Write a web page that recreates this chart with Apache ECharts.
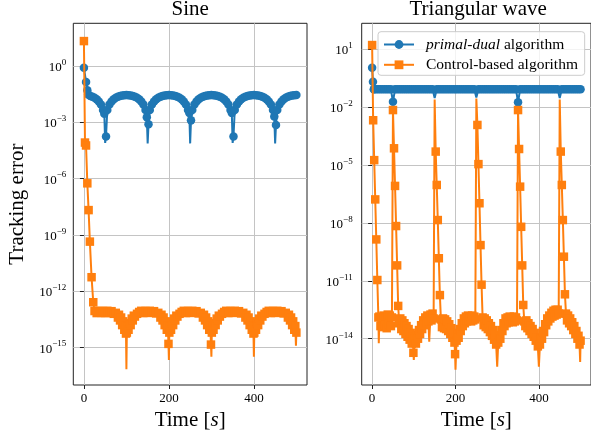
<!DOCTYPE html>
<html><head><meta charset="utf-8">
<script src="https://cdn.jsdelivr.net/npm/echarts@6/dist/echarts.min.js"></script>
<style>html,body{margin:0;padding:0;background:#fff}#c{width:591px;height:438px}</style>
</head><body><div id="c"></div>
<script>
// ---------------- data (time [s], tracking error) ----------------
const panelTitles = ['Sine', 'Triangular wave'];
const seriesNames = ['primal-dual algorithm', 'Control-based algorithm'];
const xTicks = [0, 200, 400];
const sineYTicks = [1, 1e-3, 1e-6, 1e-9, 1e-12, 1e-15];
const triYTicks = [10, 1e-2, 1e-5, 1e-8, 1e-11, 1e-14];

// Sine, primal-dual
const sineDualPts = [
 [0,0.79],[5,0.141],[8,0.05],[10,0.030],[15,0.0251],[20,0.0229],[25,0.0200],[30,0.0166],[35,0.0126],[40,0.0087],[45,0.0045],[48,0.0028],[52,0.000174],[55,0.0045],[60,0.0087],[65,0.0126],[70,0.0166],[75,0.0200],[80,0.0229],[85,0.0251],[90,0.0269],[95,0.0275],
 [100,0.0282],[105,0.0275],[110,0.0269],[115,0.0251],[120,0.0229],[125,0.0200],[130,0.0166],[135,0.0126],[140,0.0087],[145,0.0045],[148,0.00186],[152,0.00079],[155,0.0045],[160,0.0087],[165,0.0126],[170,0.0166],[175,0.0200],[180,0.0229],[185,0.0251],[190,0.0269],[195,0.0275],
 [200,0.0282],[205,0.0275],[210,0.0269],[215,0.0251],[220,0.0229],[225,0.0200],[230,0.0166],[235,0.0126],[240,0.0087],[245,0.0045],[248,0.00316],[252,0.00126],[255,0.0045],[260,0.0087],[265,0.0126],[270,0.0166],[275,0.0200],[280,0.0229],[285,0.0251],[290,0.0269],[295,0.0275],
 [300,0.0282],[305,0.0275],[310,0.0269],[315,0.0251],[320,0.0229],[325,0.0200],[330,0.0166],[335,0.0126],[340,0.0087],[345,0.0045],[348,0.00316],[352,0.000174],[355,0.0045],[360,0.0087],[365,0.0126],[370,0.0166],[375,0.0200],[380,0.0229],[385,0.0251],[390,0.0269],[395,0.0275],
 [400,0.0282],[405,0.0275],[410,0.0269],[415,0.0251],[420,0.0229],[425,0.0200],[430,0.0166],[435,0.0126],[440,0.0087],[445,0.0045],[448,0.0020],[452,0.00072],[455,0.0045],[460,0.0087],[465,0.0126],[470,0.0166],[475,0.0200],[480,0.0229],[485,0.0251],[490,0.0269],[495,0.0275],
 [500,0.0282]
];
const sineDualSpikes = [[50,8e-5],[150,7.5e-5],[250,7.5e-5],[350,8e-5],[450,7.5e-5]];

// Sine, control-based
const sineCtrlPts = [
 [0,21],[2.5,8.3e-5],[5,5.8e-5],[8,5.6e-7],[11,2.1e-8],[14,4.4e-10],[18,5.6e-12],[22,2.6e-13],
 [25,8.9e-14],[30,6.9e-14],[35,9.1e-14],[40,7.1e-14],[45,8.9e-14],[50,6.8e-14],[55,9.1e-14],[60,7.2e-14],[65,8.7e-14],[70,6.3e-14],[75,7.1e-14],
 [80,4.0e-14],[82.5,5.6e-14],[85,2.8e-14],[87.5,4.0e-14],[90,1.58e-14],[92.5,2.5e-14],[95,8.9e-15],[97.5,1.4e-14],[99,5.6e-15],[101,6.3e-15],[102.5,1.26e-14],[105,8.9e-15],[107.5,2.0e-14],[110,1.58e-14],[112.5,3.5e-14],[115,2.8e-14],[117.5,5.0e-14],[120,4.5e-14],[125,6.3e-14],[130,7.9e-14],
 [135,9.1e-14],[140,6.9e-14],[145,8.9e-14],[150,7.1e-14],[155,9.1e-14],[160,7.1e-14],[165,8.7e-14],[170,6.6e-14],[175,7.1e-14],
 [180,4.0e-14],[182.5,5.6e-14],[185,2.8e-14],[187.5,4.0e-14],[190,1.58e-14],[192.5,2.5e-14],[195,8.9e-15],[197.5,1.4e-14],[199,1.58e-15],[201,6.3e-15],[202.5,1.26e-14],[205,8.9e-15],[207.5,2.0e-14],[210,1.58e-14],[212.5,3.5e-14],[215,2.8e-14],[217.5,5.0e-14],[220,4.5e-14],[225,6.3e-14],[230,7.9e-14],
 [235,9.1e-14],[240,6.9e-14],[245,8.9e-14],[250,7.1e-14],[255,9.1e-14],[260,7.1e-14],[265,8.7e-14],[270,6.6e-14],[275,7.1e-14],
 [280,4.0e-14],[282.5,5.6e-14],[285,2.8e-14],[287.5,4.0e-14],[290,1.58e-14],[292.5,2.5e-14],[295,8.9e-15],[297.5,1.4e-14],[299,1.45e-15],[301,6.3e-15],[302.5,1.26e-14],[305,8.9e-15],[307.5,2.0e-14],[310,1.58e-14],[312.5,3.5e-14],[315,2.8e-14],[317.5,5.0e-14],[320,4.5e-14],[325,6.3e-14],[330,7.9e-14],
 [335,9.1e-14],[340,6.9e-14],[345,8.9e-14],[350,7.1e-14],[355,9.1e-14],[360,7.1e-14],[365,8.7e-14],[370,6.6e-14],[375,7.1e-14],
 [380,4.0e-14],[382.5,5.6e-14],[385,2.8e-14],[387.5,4.0e-14],[390,1.58e-14],[392.5,2.5e-14],[395,8.9e-15],[397.5,1.4e-14],[399,5.6e-15],[401,6.3e-15],[402.5,1.26e-14],[405,8.9e-15],[407.5,2.0e-14],[410,1.58e-14],[412.5,3.5e-14],[415,2.8e-14],[417.5,5.0e-14],[420,4.5e-14],[425,6.3e-14],[430,7.9e-14],
 [435,9.1e-14],[440,6.9e-14],[445,8.9e-14],[450,7.1e-14],[455,9.1e-14],[460,7.1e-14],[465,8.7e-14],[470,6.6e-14],[475,7.1e-14],
 [480,4.0e-14],[482.5,5.6e-14],[485,2.8e-14],[487.5,4.0e-14],[490,1.58e-14],[492.5,2.5e-14],[495,8.9e-15],[497.5,1.4e-14],[500,6.3e-15]
];
const sineCtrlSpikes = [[100,7.1e-17],[200,2.2e-16],[300,3.3e-16],[400,3.3e-16],[499,1.26e-15]];

// Triangular wave, primal-dual
const triDualPts = [
 [0,1.11],[2,0.21],[4,0.085],[5,0.085],[10,0.085],[15,0.085],[20,0.085],[25,0.085],[30,0.085],[35,0.085],[40,0.085],[45,0.085],[50,0.019],[55,0.085],[60,0.085],[65,0.085],[70,0.085],[75,0.085],[80,0.085],[85,0.085],[90,0.085],[95,0.085],
 [100,0.085],[105,0.085],[110,0.085],[115,0.085],[120,0.085],[125,0.085],[130,0.085],[135,0.085],[140,0.085],[145,0.085],[155,0.085],[160,0.085],[165,0.085],[170,0.085],[175,0.085],[180,0.085],[185,0.085],[190,0.085],[195,0.085],
 [200,0.085],[205,0.085],[210,0.085],[215,0.085],[220,0.085],[225,0.085],[230,0.085],[235,0.085],[240,0.085],[245,0.085],[255,0.085],[260,0.085],[265,0.085],[270,0.085],[275,0.085],[280,0.085],[285,0.085],[290,0.085],[295,0.085],
 [300,0.085],[305,0.085],[310,0.085],[315,0.085],[320,0.085],[325,0.085],[330,0.085],[335,0.085],[340,0.085],[345,0.085],[350,0.018],[355,0.085],[360,0.085],[365,0.085],[370,0.085],[375,0.085],[380,0.085],[385,0.085],[390,0.085],[395,0.085],
 [400,0.085],[405,0.085],[410,0.085],[415,0.085],[420,0.085],[425,0.085],[430,0.085],[435,0.085],[440,0.085],[445,0.085],[455,0.085],[460,0.085],[465,0.085],[470,0.085],[475,0.085],[480,0.085],[485,0.085],[490,0.085],[495,0.085],[500,0.085]
];
const triDualSpikes = [[150,0.030],[250,0.032],[450,0.030]];

// Triangular wave, control-based
const triCtrlPts = [
 [0,16.6],[2.5,2.1e-3],[5,1.8e-5],[7.5,1.66e-7],[10,1.4e-9],[12.5,1.1e-11],[15,1.26e-13],
 [17.5,1.4e-13],[20,4.5e-14],[22.5,1.26e-13],[25,4.0e-14],[27.5,1.58e-13],[30,5.0e-14],[32.5,1.4e-13],[35,3.5e-14],[37.5,1.78e-13],[40,5.6e-14],[42.5,1.58e-13],[45,4.5e-14],[47.5,1.26e-13],
 [50,7.1e-3],[52.5,7.4e-5],[55,8.3e-7],[57.5,6.9e-9],[60,6.3e-11],[62.5,5.0e-13],
 [65,6.3e-14],[67.5,1.12e-13],[70,3.16e-14],[72.5,8.9e-14],[75,2.5e-14],[77.5,6.3e-14],[80,1.78e-14],[82.5,4.5e-14],[85,1.26e-14],[87.5,3.16e-14],[90,8.9e-15],[92.5,2.0e-14],[95,5.6e-15],[97.5,1.26e-14],[99,1.86e-15],
 [102.5,1.0e-14],[105,5.6e-15],[107.5,1.58e-14],[110,1.0e-14],[112.5,2.8e-14],[115,1.78e-14],[117.5,5.0e-14],[120,3.16e-14],[122.5,8.9e-14],[125,5.0e-14],[127.5,1.26e-13],[130,6.3e-14],[132.5,1.58e-13],[135,7.9e-14],[140,1.78e-13],[142.5,8.9e-14],[145,2.0e-13],[147.5,1.12e-13],
 [152.5,5.0e-5],[155,9.3e-7],[157.5,1.41e-8],[160,1.48e-10],[162.5,1.82e-12],
 [165,1.0e-13],[167.5,4.0e-14],[170,1.12e-13],[172.5,3.5e-14],[175,1.0e-13],[177.5,3.16e-14],[180,7.9e-14],[182.5,2.5e-14],[185,5.6e-14],[187.5,1.78e-14],[190,3.5e-14],[192.5,1.12e-14],[195,2.0e-14],[197.5,6.3e-15],[199,1.58e-15],
 [202.5,7.9e-15],[205,1.58e-14],[207.5,1.12e-14],[210,3.16e-14],[212.5,2.5e-14],[215,6.3e-14],[217.5,4.5e-14],[220,1.12e-13],[222.5,6.3e-14],[225,1.4e-13],[227.5,7.9e-14],[230,1.58e-13],[232.5,8.9e-14],[235,1.4e-13],[237.5,7.9e-14],[240,1.58e-13],[242.5,8.9e-14],[245,1.4e-13],[247.5,1.0e-13],
 [252.5,1.2e-3],[255,1.12e-5],[257.5,1.05e-7],[260,7.1e-10],[262.5,6.3e-12],
 [265,1.26e-13],[267.5,5.0e-14],[270,1.12e-13],[272.5,4.0e-14],[275,8.9e-14],[277.5,3.16e-14],[280,6.3e-14],[282.5,2.2e-14],[285,4.5e-14],[287.5,1.41e-14],[290,2.8e-14],[292.5,8.9e-15],[295,1.58e-14],[297.5,5.0e-15],
 [302.5,6.3e-15],[305,1.41e-14],[307.5,1.0e-14],[310,2.8e-14],[312.5,2.5e-14],[315,6.3e-14],[317.5,4.5e-14],[320,1.12e-13],[322.5,6.3e-14],[325,1.26e-13],[327.5,7.1e-14],[330,1.4e-13],[332.5,7.9e-14],[335,1.26e-13],[337.5,7.1e-14],[340,1.4e-13],[342.5,7.9e-14],[345,1.26e-13],[347.5,8.9e-14],
 [350,7.1e-3],[352.5,6.8e-5],[355,7.6e-7],[357.5,6.3e-9],[360,6.3e-11],[362.5,5.6e-13],
 [365,7.9e-14],[367.5,4.5e-14],[370,8.9e-14],[372.5,3.5e-14],[375,6.3e-14],[377.5,2.5e-14],[380,4.5e-14],[382.5,1.78e-14],[385,3.16e-14],[387.5,1.26e-14],[390,2.0e-14],[392.5,7.9e-15],[395,1.12e-14],[397.5,4.0e-15],
 [402.5,5.0e-15],[405,1.12e-14],[407.5,1.0e-14],[410,2.5e-14],[412.5,2.2e-14],[415,5.6e-14],[417.5,5.0e-14],[420,1.12e-13],[422.5,7.9e-14],[425,1.58e-13],[427.5,1.12e-13],[430,2.2e-13],[432.5,1.4e-13],[435,2.8e-13],[437.5,1.58e-13],[440,3.16e-13],[442.5,1.78e-13],[445,3.16e-13],[447.5,2.0e-13],
 [452.5,5.0e-5],[455,9.3e-7],[457.5,1.41e-8],[460,1.78e-10],[462.5,2.0e-12],
 [465,2.0e-13],[467.5,8.9e-14],[470,1.58e-13],[472.5,6.3e-14],[475,1.12e-13],[477.5,4.5e-14],[480,7.1e-14],[482.5,2.8e-14],[485,4.5e-14],[487.5,1.78e-14],[490,2.5e-14],[492.5,1.0e-14],[495,1.41e-14],[497.5,5.0e-15],[500,7.9e-15]
];
const triCtrlSpikes = [[16,5.8e-15],[100,7.9e-16],[137,6.9e-15],[150,0.025],[200,2.5e-16],[250,0.028],[300,3.5e-16],[400,3.5e-16],[450,0.025],[499,6.3e-16]];

// ---------------- chart ----------------
const FONT = 'Liberation Serif';
const BLUE = '#1f77b4', ORANGE = '#ff7f0e';

function build(pts, spikes) {
  const out = pts.map(p => ({ value: [p[0], p[1]] }));
  spikes.forEach(p => out.push({ value: [p[0], p[1]], symbol: 'none' }));
  out.sort((a, b) => a.value[0] - b.value[0]);
  return out;
}
function sup(v) {
  const e = Math.round(Math.log10(v));
  return '{b|10}{s|' + (e < 0 ? '\u2212' : '') + Math.abs(e) + '}';
}
const labelRich = {
  b: { fontFamily: FONT, fontSize: 13, color: '#000', lineHeight: 16, verticalAlign: 'bottom' },
  s: { fontFamily: FONT, fontSize: 9, color: '#000', lineHeight: 9, verticalAlign: 'top' }
};
const gridLine = { show: true, lineStyle: { color: '#c4c4c4', width: 1 } };
const tick = { show: true, inside: false, length: 4, lineStyle: { color: '#222', width: 1 } };

function xAx(gi) {
  return {
    type: 'value', gridIndex: gi, min: -25, max: 525,
    axisLine: { show: false },
    axisTick: Object.assign({ customValues: xTicks }, tick),
    axisLabel: { customValues: xTicks, fontFamily: FONT, fontSize: 13, color: '#000', margin: 7 },
    splitLine: gridLine,
    name: 'Time [{i|s}]', nameLocation: 'middle', nameGap: 24,
    nameTextStyle: { fontFamily: FONT, fontSize: 21, color: '#000',
      rich: { i: { fontFamily: FONT, fontSize: 21, fontStyle: 'italic', color: '#000' } } }
  };
}
function yAx(gi, ticks, mn, mx, margin, name) {
  const a = {
    type: 'log', logBase: 10, gridIndex: gi, min: mn, max: mx,
    axisLine: { show: false },
    axisTick: Object.assign({ customValues: ticks }, tick),
    axisLabel: { customValues: ticks, formatter: sup, rich: labelRich, margin: margin },
    splitLine: gridLine
  };
  if (name) {
    a.name = name; a.nameLocation = 'middle'; a.nameGap = 45;
    a.nameTextStyle = { fontFamily: FONT, fontSize: 21, color: '#000' };
  }
  return a;
}
function lineSeries(name, xi, data, color, symbol, z) {
  return {
    type: 'line', name: name, xAxisIndex: xi, yAxisIndex: xi, data: data,
    symbol: symbol, symbolSize: 8.5, showSymbol: true, showAllSymbol: true,
    lineStyle: { width: 2, color: color }, itemStyle: { color: color },
    z: z, silent: true, animation: false, clip: true, emphasis: { disabled: true }
  };
}

const chart = echarts.init(document.getElementById('c'), null, { renderer: 'canvas' });
chart.setOption({
  animation: false,
  backgroundColor: '#fff',
  textStyle: { fontFamily: FONT },
  title: [
    { text: panelTitles[0], left: 190.2, top: -1, textAlign: 'center', padding: 0,
      textStyle: { fontFamily: FONT, fontSize: 21, fontWeight: 'normal', color: '#000' } },
    { text: panelTitles[1], left: 478.2, top: -1, textAlign: 'center', padding: 0,
      textStyle: { fontFamily: FONT, fontSize: 21, fontWeight: 'normal', color: '#000' } }
  ],
  grid: [
    { left: 73.3, top: 23.3, width: 233.7, height: 361.7, show: true, borderColor: '#222', borderWidth: 1, backgroundColor: 'transparent' },
    { left: 361.7, top: 23.3, width: 233, height: 361.7, show: true, borderColor: '#222', borderWidth: 1, backgroundColor: 'transparent' }
  ],
  xAxis: [xAx(0), xAx(1)],
  yAxis: [
    yAx(0, sineYTicks, 1.02e-17, 186, 7, 'Tracking error'),
    yAx(1, triYTicks, 3.98e-17, 223, 9, null)
  ],
  legend: {
    left: 378, top: 31.7, orient: 'vertical',
    padding: [4.8, 6.7, 2.5, 5],
    itemWidth: 30, itemHeight: 11, itemGap: 4.3,
    backgroundColor: 'rgba(255,255,255,0.8)', borderColor: '#cccccc', borderWidth: 1, borderRadius: 3,
    data: [seriesNames[0], seriesNames[1]],
    formatter: n => n === seriesNames[0] ? '{i|primal-dual} algorithm' : n,
    textStyle: { fontFamily: FONT, fontSize: 15.5, color: '#000', lineHeight: 15, padding: [0, 0, 0, 7],
      rich: { i: { fontFamily: FONT, fontSize: 15.5, fontStyle: 'italic', color: '#000' } } },
    selectedMode: false
  },
  series: [
    lineSeries(seriesNames[0], 0, build(sineDualPts, sineDualSpikes), BLUE, 'circle', 2),
    lineSeries(seriesNames[1], 0, build(sineCtrlPts, sineCtrlSpikes), ORANGE, 'rect', 3),
    lineSeries(seriesNames[0], 1, build(triDualPts, triDualSpikes), BLUE, 'circle', 2),
    lineSeries(seriesNames[1], 1, build(triCtrlPts, triCtrlSpikes), ORANGE, 'rect', 3)
  ]
});
</script>
</body></html>
